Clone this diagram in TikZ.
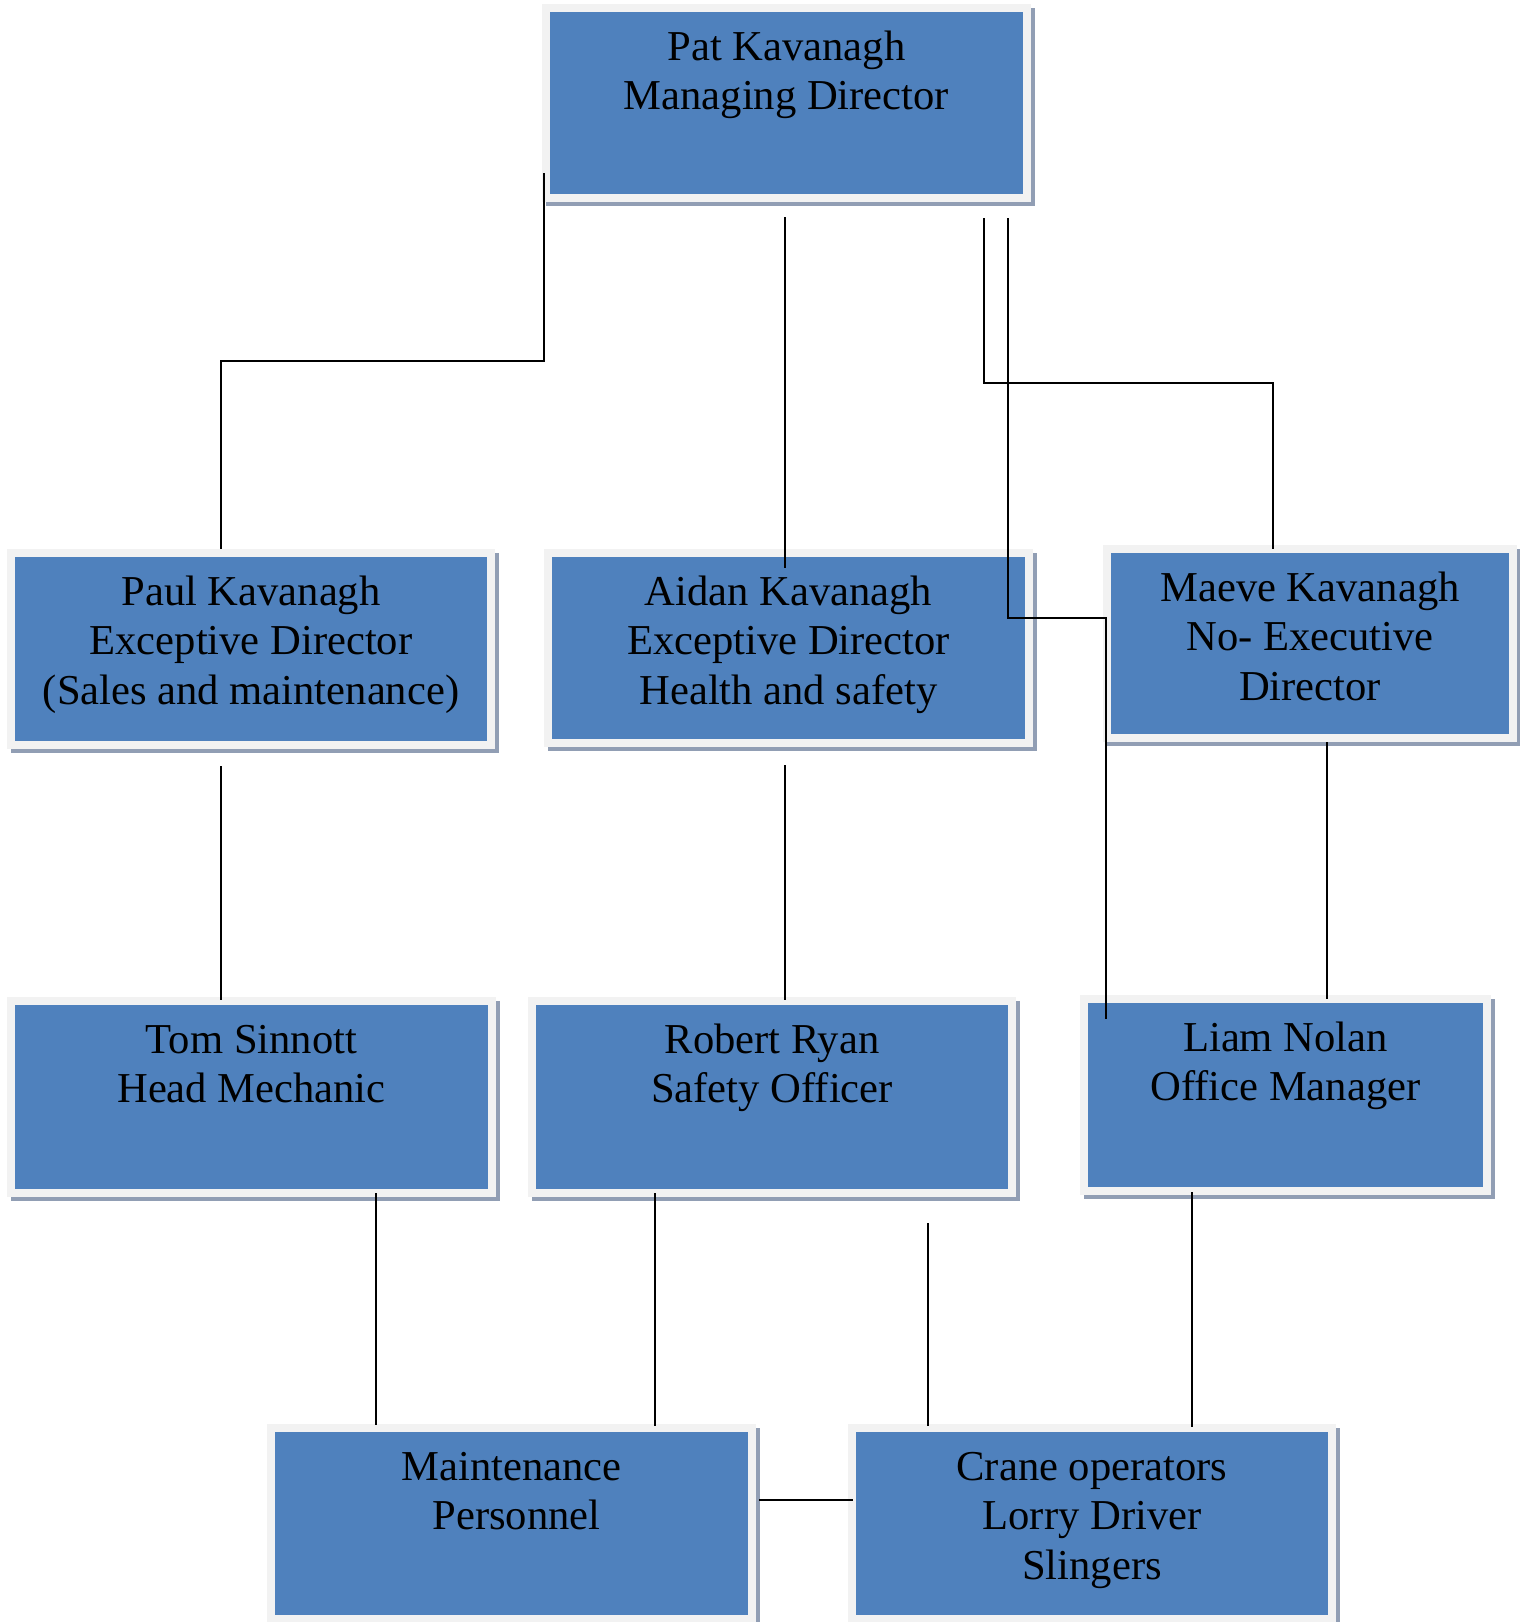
\documentclass[tikz,border=0pt]{standalone}
\usepackage{fontspec}
\setmainfont{Liberation Serif}
\usetikzlibrary{calc}
\definecolor{boxblue}{HTML}{4F81BD}
\definecolor{framec}{HTML}{F2F2F2}
\definecolor{shadowc}{RGB}{145,158,180}
\newcommand\boxtxt[3]{\parbox[c][#2][t]{#1}{\centering\rule{0pt}{26pt}#3\par}}
\begin{document}
\begin{tikzpicture}[x=0.5pt,y=-0.5pt,
  orgbox/.style={fill=boxblue, draw=framec, line width=4pt, inner sep=0pt,
    font=\fontsize{21.3}{24.75}\selectfont,
    preaction={draw=shadowc, fill=shadowc, line width=4pt,
      transform canvas={shift={(2pt,-2pt)}}}},
  conn/.style={draw=black, line width=1pt}]
\useasboundingbox[fill=white] (0,0) rectangle (1520,1622);

\node[orgbox] (pat)    at (786.5,103)   {\boxtxt{240.5pt}{95pt}{Pat Kavanagh\\Managing Director}};
\node[orgbox] (paul)   at (251,649)     {\boxtxt{240pt}{96pt}{Paul Kavanagh\\Exceptive Director\\(Sales and maintenance)}};
\node[orgbox] (aidan)  at (788.5,648)   {\boxtxt{240.5pt}{95pt}{Aidan Kavanagh\\Exceptive Director\\Health and safety}};
\node[orgbox] (maeve)  at (1310,643.5)  {\boxtxt{203pt}{94.5pt}{Maeve Kavanagh\\No- Executive\\Director}};
\node[orgbox] (tom)    at (251.5,1097)  {\boxtxt{240.5pt}{96pt}{Tom Sinnott\\Head Mechanic}};
\node[orgbox] (robert) at (772,1097)    {\boxtxt{240pt}{96pt}{Robert Ryan\\Safety Officer}};
\node[orgbox] (liam)   at (1285.5,1095) {\boxtxt{201.5pt}{96pt}{Liam Nolan\\Office Manager}};
\node[orgbox] (maint)  at (511.5,1523.5){\boxtxt{240.5pt}{95.5pt}{Maintenance\\\hspace*{5pt}Personnel}};
\node[orgbox] (crane)  at (1092,1523.5) {\boxtxt{240pt}{95.5pt}{Crane operators\\Lorry Driver\\Slingers}};

% connectors
\draw[conn] ($(pat.south west)+(2,-29)$) -- ++(0,188) -| ($(paul.north)+(-30,0)$);
\draw[conn] ($(pat.south)+(-1.5,15)$) -- ($(aidan.north)+(-3.5,19)$);
\draw[conn] ($(pat.south east)+(-47,16)$) -- ++(0,165) -| ($(maeve.north)+(-37,4)$);
\draw[conn] ($(pat.south east)+(-23,16)$) -- ++(0,400) -| ($(liam.north west)+(26,24)$);
\draw[conn] ($(paul.south)+(-30,17)$) -- ($(tom.north)+(-30.5,3)$);
\draw[conn] ($(aidan.south)+(-3.5,18)$) -- ($(robert.north)+(13,3)$);
\draw[conn] ($(maeve.south)+(17,0)$) -- ($(liam.north)+(41.5,4)$);
\draw[conn] ($(tom.south)+(124.5,-4)$) -- ($(maint.north)+(-135.5,1)$);
\draw[conn] ($(robert.south)+(-117,-4)$) -- ($(maint.north)+(143.5,2)$);
\draw[conn] ($(robert.south east)+(-88,26)$) -- ($(crane.north)+(-164,2)$);
\draw[conn] ($(liam.south)+(-93.5,-3)$) -- ($(crane.north)+(100,3)$);
\draw[conn] ($(maint.east)+(3,-23.5)$) -- ($(crane.west)+(5,-23.5)$);
\end{tikzpicture}
\end{document}
